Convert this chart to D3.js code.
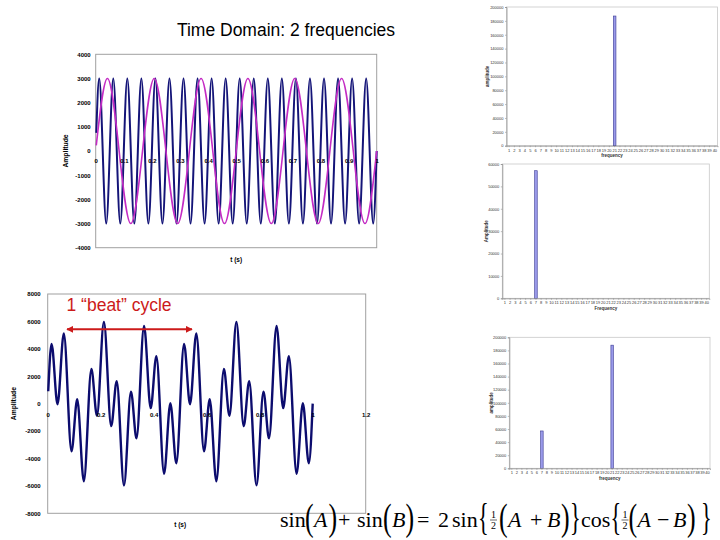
<!DOCTYPE html>
<html>
<head>
<meta charset="utf-8">
<script src="https://cdn.jsdelivr.net/npm/d3@7"></script>
<style>
  body { margin: 0; background: #fff; }
  svg { display: block; }
  text { font-family: "Liberation Sans", Arial, sans-serif; }
  .eq text { font-family: "Liberation Serif", "Times New Roman", serif; }
</style>
</head>
<body>
<div id="slide"></div>
<script>
// 20 Hz tone: extrema (t in s, amplitude)
const tone20T = [0.002,
  0.0125, 0.0375, 0.0625, 0.0875, 0.1125, 0.1375, 0.1625, 0.1875, 0.2125, 0.2375,
  0.2625, 0.2875, 0.3125, 0.3375, 0.3625, 0.3875, 0.4125, 0.4375, 0.4625, 0.4875,
  0.5125, 0.5375, 0.5625, 0.5875, 0.6125, 0.6375, 0.6625, 0.6875, 0.7125, 0.7375,
  0.7625, 0.7875, 0.8125, 0.8375, 0.8625, 0.8875, 0.9125, 0.9375, 0.9625, 0.9875,
  1.0];
const tone20V = [750,
  3000, -3000, 3000, -3000, 3000, -3000, 3000, -3000, 3000, -3000,
  3000, -3000, 3000, -3000, 3000, -3000, 3000, -3000, 3000, -3000,
  3000, -3000, 3000, -3000, 3000, -3000, 3000, -3000, 3000, -3000,
  3000, -3000, 3000, -3000, 3000, -3000, 3000, -3000, 3000, -3000,
  0];

// 6 Hz tone
const tone6T = [0.002, 0.0417, 0.125, 0.2083, 0.2917, 0.375, 0.4583, 0.5417, 0.625, 0.7083, 0.7917, 0.875, 0.9583, 1.0];
const tone6V = [230, 3000, -3000, 3000, -3000, 3000, -3000, 3000, -3000, 3000, -3000, 3000, -3000, 0];

// sum of both tones, extrema
const sumT = [0.002,
  0.0146, 0.0371, 0.0608, 0.0899, 0.1114, 0.1364, 0.1649, 0.1858, 0.2121, 0.2396,
  0.2604, 0.2879, 0.3142, 0.3351, 0.3636, 0.3886, 0.4101, 0.4392, 0.4629, 0.4854,
  0.5146, 0.5371, 0.5608, 0.5899, 0.6114, 0.6364, 0.6649, 0.6858, 0.7121, 0.7396,
  0.7604, 0.7879, 0.8142, 0.8351, 0.8636, 0.8886, 0.9101, 0.9392, 0.9629, 0.9854,
  1.0];
const sumV = [900,
  4360, -40, 5120, -3470, 330, -5670, 2530, -880, 5960, -1640,
  1640, -5960, 880, -2530, 5670, -330, 3470, -5120, 40, -4360,
  4360, -40, 5120, -3470, 330, -5670, 2530, -880, 5960, -1640,
  1640, -5960, 880, -2530, 5670, -330, 3470, -5120, 40, -4360,
  0];

const topTicksX = [0, 0.1, 0.2, 0.3, 0.4, 0.5, 0.6, 0.7, 0.8, 0.9, 1];
const lowTicksX = [0, 0.2, 0.4, 0.6, 0.8, 1, 1.2];

// spectra (bin number -> magnitude)
const freqBins = [1, 2, 3, 4, 5, 6, 7, 8, 9, 10, 11, 12, 13, 14, 15, 16, 17, 18, 19, 20,
  21, 22, 23, 24, 25, 26, 27, 28, 29, 30, 31, 32, 33, 34, 35, 36, 37, 38, 39, 40];
const spec20 = [0, 0, 0, 0, 0, 0, 0, 0, 0, 0,
  0, 0, 0, 0, 0, 0, 0, 0, 0, 0,
  187000, 0, 0, 0, 0, 0, 0, 0, 0, 0,
  0, 0, 0, 0, 0, 0, 0, 0, 0, 0];
const spec6 = [0, 0, 0, 0, 0, 0, 57000, 0, 0, 0,
  0, 0, 0, 0, 0, 0, 0, 0, 0, 0,
  0, 0, 0, 0, 0, 0, 0, 0, 0, 0,
  0, 0, 0, 0, 0, 0, 0, 0, 0, 0];
const specSum = [0, 0, 0, 0, 0, 0, 57000, 0, 0, 0,
  0, 0, 0, 0, 0, 0, 0, 0, 0, 0,
  188000, 0, 0, 0, 0, 0, 0, 0, 0, 0,
  0, 0, 0, 0, 0, 0, 0, 0, 0, 0];

const svg = d3.select("#slide").append("svg")
              .attr("width", 720)
              .attr("height", 540);

svg.append("rect").attr("width", 720).attr("height", 540).attr("fill", "#fff");

const zip = (ts, vs) => ts.map((t, i) => [t, vs[i]]);

// title
svg.append("text")
   .attr("x", 286).attr("y", 36)
   .attr("text-anchor", "middle")
   .attr("font-size", 17.5)
   .text("Time Domain: 2 frequencies");

drawTimeChart({
  left: 95.7, right: 376.7, top: 54.3, bottom: 247.7,
  xMax: 1, xTicks: topTicksX, yMax: 4000, yStep: 1000,
  labelPad: 5, xPad: 7.4, fontSize: 6,
  series: [
    {data: zip(tone20T, tone20V), color: "#141478", width: 2},
    {data: zip(tone6T, tone6V), color: "#c42cc4", width: 1.6}
  ],
  yTitleX: 65.7, xTitleY: 262
});

drawTimeChart({
  left: 47.7, right: 365.7, top: 294, bottom: 513.3,
  xMax: 1.2, xTicks: lowTicksX, yMax: 8000, yStep: 2000,
  labelPad: 7, xPad: 9, fontSize: 6,
  series: [
    {data: zip(sumT, sumV), color: "#0c0c6e", width: 2.4}
  ],
  yTitleX: 14, xTitleY: 527
});

// beat annotation
svg.append("text")
   .attr("x", 66.5).attr("y", 311)
   .attr("font-size", 17.5)
   .attr("fill", "#cc1a1a")
   .text("1 \u201cbeat\u201d cycle");

const defs = svg.append("defs");
defs.append("marker")
    .attr("id", "arrowhead")
    .attr("viewBox", "0 0 10 10")
    .attr("refX", 9).attr("refY", 5)
    .attr("markerUnits", "userSpaceOnUse")
    .attr("markerWidth", 7).attr("markerHeight", 7)
    .attr("orient", "auto-start-reverse")
  .append("path")
    .attr("d", "M0,0L10,5L0,10Z")
    .attr("fill", "#cc1a1a");

svg.append("line")
   .attr("x1", 67).attr("x2", 192)
   .attr("y1", 329.3).attr("y2", 329.3)
   .attr("stroke", "#cc1a1a")
   .attr("stroke-width", 2)
   .attr("marker-start", "url(#arrowhead)")
   .attr("marker-end", "url(#arrowhead)");

drawSpectrum({
  left: 506.5, right: 717.5, top: 7, bottom: 145.7,
  yMax: 200000, yStep: 20000, values: spec20,
  xTitle: "frequency", yTitle: "amplitude", yTitleX: 489, xTitleY: 157
});

drawSpectrum({
  left: 502.3, right: 709.3, top: 164, bottom: 298.3,
  yMax: 60000, yStep: 10000, values: spec6,
  xTitle: "Frequency", yTitle: "Amplitude", yTitleX: 488, xTitleY: 310
});

drawSpectrum({
  left: 509.3, right: 710, top: 337.3, bottom: 468.3,
  yMax: 200000, yStep: 20000, values: specSum,
  xTitle: "frequency", yTitle: "amplitude", yTitleX: 493, xTitleY: 480
});

drawEquation();

function drawTimeChart(c) {

  const x = d3.scaleLinear().domain([0, c.xMax]).range([c.left, c.right]);
  const y = d3.scaleLinear().domain([-c.yMax, c.yMax]).range([c.bottom, c.top]);

  const g = svg.append("g");

  g.append("rect")
   .attr("x", c.left).attr("y", c.top)
   .attr("width", c.right - c.left).attr("height", c.bottom - c.top)
   .attr("fill", "none")
   .attr("stroke", "#a0a0a0")
   .attr("stroke-width", 1);

  const line = d3.line()
      .x(function(d) { return x(d[0]); })
      .y(function(d) { return y(d[1]); })
      .curve(d3.curveMonotoneX);

  c.series.forEach(function(s) {
    g.append("path")
     .datum(s.data)
     .attr("d", line)
     .attr("fill", "none")
     .attr("stroke", s.color)
     .attr("stroke-width", s.width)
     .attr("stroke-linejoin", "round");
  });

  const yAxis = g.append("g")
      .attr("transform", "translate(" + c.left + ",0)")
      .call(d3.axisLeft(y)
          .tickValues(d3.range(-c.yMax, c.yMax + 1, c.yStep))
          .tickSize(0)
          .tickPadding(c.labelPad)
          .tickFormat(String));

  const xAxis = g.append("g")
      .attr("transform", "translate(0," + y(0) + ")")
      .call(d3.axisBottom(x)
          .tickValues(c.xTicks)
          .tickSize(0)
          .tickPadding(c.xPad)
          .tickFormat(function(d) { return String(+d.toFixed(1)); }));

  [yAxis, xAxis].forEach(function(a) {
    a.select(".domain").remove();
    a.selectAll("text")
     .attr("font-size", c.fontSize)
     .attr("font-weight", "bold")
     .attr("fill", "#000");
  });

  g.append("text")
   .attr("transform", "translate(" + c.yTitleX + "," + y(0) + ") rotate(-90)")
   .attr("text-anchor", "middle")
   .attr("dy", "0.35em")
   .attr("font-size", 6.8)
   .attr("font-weight", "bold")
   .text("Amplitude");

  g.append("text")
   .attr("x", (c.left + x(1)) / 2)
   .attr("y", c.xTitleY)
   .attr("text-anchor", "middle")
   .attr("font-size", 6.5)
   .attr("font-weight", "bold")
   .text("t (s)");
}

function drawSpectrum(c) {

  const x = d3.scaleBand()
              .domain(freqBins)
              .range([c.left, c.right])
              .paddingInner(0.5)
              .paddingOuter(0.25);

  const y = d3.scaleLinear().domain([0, c.yMax]).range([c.bottom, c.top]);

  const g = svg.append("g");

  g.append("rect")
   .attr("x", c.left).attr("y", c.top)
   .attr("width", c.right - c.left).attr("height", c.bottom - c.top)
   .attr("fill", "none")
   .attr("stroke", "#c8c8c8")
   .attr("stroke-width", 0.8);

  g.selectAll(".bar")
   .data(freqBins.filter(function(b, i) { return c.values[i] > 0; }))
   .enter()
   .append("rect")
   .attr("class", "bar")
   .attr("x", function(b) { return x(b); })
   .attr("width", x.bandwidth())
   .attr("y", function(b) { return y(c.values[b - 1]); })
   .attr("height", function(b) { return c.bottom - y(c.values[b - 1]); })
   .attr("fill", "#9a9aea")
   .attr("stroke", "#3a3a92")
   .attr("stroke-width", 0.6);

  const yAxis = g.append("g")
      .attr("transform", "translate(" + c.left + ",0)")
      .call(d3.axisLeft(y)
          .tickValues(d3.range(0, c.yMax + 1, c.yStep))
          .tickSize(1.5)
          .tickPadding(1.5)
          .tickFormat(String));

  const xAxis = g.append("g")
      .attr("transform", "translate(0," + c.bottom + ")")
      .call(d3.axisBottom(x).tickSize(1.5).tickPadding(1.5));

  [yAxis, xAxis].forEach(function(a) {
    a.select(".domain").attr("stroke", "#909090").attr("stroke-width", 0.8);
    a.selectAll("line").attr("stroke", "#909090").attr("stroke-width", 0.6);
    a.selectAll("text")
     .attr("font-size", 4)
     .attr("fill", "#333");
  });

  g.append("text")
   .attr("x", (c.left + c.right) / 2)
   .attr("y", c.xTitleY)
   .attr("text-anchor", "middle")
   .attr("font-size", 4.5)
   .attr("font-weight", "bold")
   .attr("fill", "#333")
   .text(c.xTitle);

  g.append("text")
   .attr("transform", "translate(" + c.yTitleX + "," + (c.top + c.bottom) / 2 + ") rotate(-90)")
   .attr("text-anchor", "middle")
   .attr("font-size", 4.5)
   .attr("font-weight", "bold")
   .attr("fill", "#333")
   .text(c.yTitle);
}

function drawEquation() {

  const eq = svg.append("g")
                .attr("class", "eq")
                .attr("fill", "#000");

  // [text, x, kind]  kind: n = normal, i = italic, p = tall paren, c = tall brace
  const glyphs = [
    ["sin", 280, "n"], ["(", 305, "p"], ["A", 314, "i"], [")", 328.5, "p"],
    ["+", 338, "n"], ["sin", 357, "n"], ["(", 383, "p"], ["B", 392, "i"], [")", 405.5, "p"],
    ["=", 417, "n"], ["2", 438, "n"], ["sin", 452, "n"], ["{", 478, "c"],
    ["(", 499, "p"], ["A", 508, "i"], ["+", 530, "n"], ["B", 547, "i"], [")", 561, "p"],
    ["}", 570, "c"], ["cos", 581, "n"], ["{", 610.5, "c"],
    ["(", 628.5, "p"], ["A", 637.5, "i"], ["\u2212", 657, "n"], ["B", 673, "i"], [")", 687, "p"],
    ["}", 701, "c"]
  ];

  glyphs.forEach(function(gl) {
    const big = gl[2] === "p" || gl[2] === "c";
    const sx = gl[2] === "p" ? 0.7 : 0.6;
    eq.append("text")
      .attr("x", gl[1])
      .attr("y", big ? 530 : 527)
      .attr("font-size", big ? 37 : 22)
      .attr("font-style", gl[2] === "i" ? "italic" : "normal")
      .attr("transform", big ? "translate(" + gl[1] + ",0) scale(" + sx + ",1) translate(" + (-gl[1]) + ",0)" : null)
      .text(gl[0]);
  });

  // the two one-half fractions
  [490, 621.5].forEach(function(fx) {
    eq.append("text").attr("x", fx + 3.5).attr("y", 518).attr("font-size", 10)
      .attr("text-anchor", "middle").text("1");
    eq.append("line").attr("x1", fx).attr("x2", fx + 7)
      .attr("y1", 520).attr("y2", 520)
      .attr("stroke", "#000").attr("stroke-width", 0.6);
    eq.append("text").attr("x", fx + 3.5).attr("y", 528.5).attr("font-size", 10)
      .attr("text-anchor", "middle").text("2");
  });
}
</script>
</body>
</html>
